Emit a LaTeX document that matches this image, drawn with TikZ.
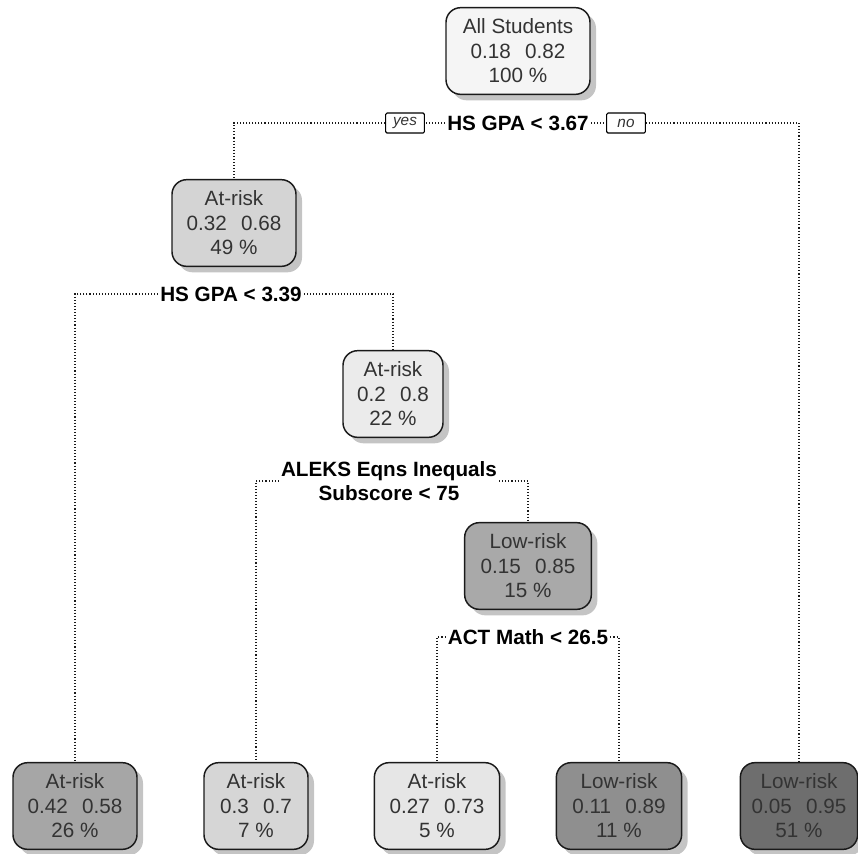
\documentclass[tikz,border=0pt]{standalone}
\usepackage{fontspec}
\setmainfont{Liberation Sans}
\usepackage{xcolor}
\usetikzlibrary{shadows}
\definecolor{edgegray}{HTML}{1A1A1A}
\definecolor{textgray}{HTML}{333333}
\definecolor{shadowgray}{HTML}{C4C4C4}
\definecolor{rootfill}{HTML}{F5F5F5}
\definecolor{gpafill}{HTML}{D4D4D4}
\definecolor{aleksfill}{HTML}{EBEBEB}
\definecolor{actfill}{HTML}{A9A9A9}
\definecolor{leafafill}{HTML}{A6A6A6}
\definecolor{leafbfill}{HTML}{D6D6D6}
\definecolor{leafcfill}{HTML}{E6E6E6}
\definecolor{leafdfill}{HTML}{8F8F8F}
\definecolor{leafefill}{HTML}{6E6E6E}
\newcommand{\probs}[2]{#1\hspace{0.7em}#2}
\tikzset{
  treebox/.style={rectangle, rounded corners=11pt, draw=edgegray, line width=1.1pt,
    text=textgray, align=center, font=\fontsize{15.5}{18.4}\selectfont,
    inner xsep=6pt, minimum height=65pt,
    drop shadow={shadow xshift=4.5pt, shadow yshift=-4.5pt, fill=shadowgray, opacity=1}},
  splitlabel/.style={font=\fontsize{15.5}{18.4}\selectfont\bfseries, text=black,
    inner xsep=1.5pt, inner ysep=1pt, align=center},
  answer/.style={rectangle, draw=black, rounded corners=1pt, line width=0.8pt, fill=white,
    font=\fontsize{11.5}{13}\selectfont\itshape, text=black!80,
    minimum width=29pt, minimum height=15pt, inner sep=1pt},
  branch/.style={draw=edgegray, line width=0.8pt, dash pattern=on 0.8pt off 1.5pt}
}
\begin{document}
\begin{tikzpicture}[x=0.75pt, y=-0.75pt]
  \useasboundingbox (0,0) rectangle (858,854);

  % split nodes
  \node (root) [treebox, fill=rootfill, minimum width=108pt] at (518,51)
    {All Students\\\probs{0.18}{0.82}\\100 \%};
  \node (gpa)  [treebox, fill=gpafill, minimum width=93pt] at (234,223)
    {At-risk\\\probs{0.32}{0.68}\\49 \%};
  \node (aleks) [treebox, fill=aleksfill, minimum width=75pt] at (393,394)
    {At-risk\\\probs{0.2}{0.8}\\22 \%};
  \node (act)  [treebox, fill=actfill, minimum width=95pt] at (528,566)
    {Low-risk\\\probs{0.15}{0.85}\\15 \%};

  % leaves
  \node (leafa) [treebox, fill=leafafill, minimum width=93pt] at (75,806)
    {At-risk\\\probs{0.42}{0.58}\\26 \%};
  \node (leafb) [treebox, fill=leafbfill, minimum width=78pt] at (256,806)
    {At-risk\\\probs{0.3}{0.7}\\7 \%};
  \node (leafc) [treebox, fill=leafcfill, minimum width=94pt] at (437,806)
    {At-risk\\\probs{0.27}{0.73}\\5 \%};
  \node (leafd) [treebox, fill=leafdfill, minimum width=94pt] at (619,806)
    {Low-risk\\\probs{0.11}{0.89}\\11 \%};
  \node (leafe) [treebox, fill=leafefill, minimum width=88pt] at (799,806)
    {Low-risk\\\probs{0.05}{0.95}\\51 \%};

  % split labels
  \node (rootsplit)  [splitlabel] at (518,123) {HS GPA < 3.67};
  \node (yes) [answer] at (405,123) {yes};
  \node (no)  [answer] at (626,123) {no};
  \node (gpasplit)   [splitlabel] at (231,294) {HS GPA < 3.39};
  \node (alekssplit) [splitlabel] at (389,481) {ALEKS Eqns Inequals\\Subscore < 75};
  \node (actsplit)   [splitlabel] at (528,637) {ACT Math < 26.5};

  % branches
  \draw[branch] (rootsplit.west) -- (yes.east);
  \draw[branch] (yes.west) -| (gpa.north);
  \draw[branch] (rootsplit.east) -- (no.west);
  \draw[branch] (no.east) -| (leafe.north);
  \draw[branch] (gpasplit.west) -| (leafa.north);
  \draw[branch] (gpasplit.east) -| (aleks.north);
  \draw[branch] (alekssplit.west) -| (leafb.north);
  \draw[branch] (alekssplit.east) -| (act.north);
  \draw[branch] (actsplit.west) -| (leafc.north);
  \draw[branch] (actsplit.east) -| (leafd.north);
\end{tikzpicture}
\end{document}
